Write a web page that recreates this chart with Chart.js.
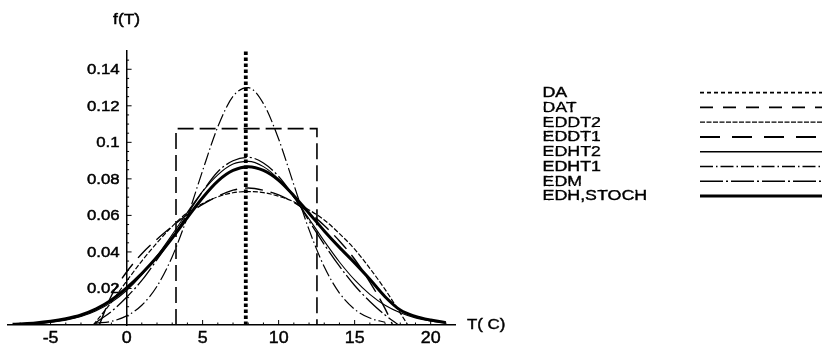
<!DOCTYPE html>
<html>
<head>
<meta charset="utf-8">
<script src="https://cdn.jsdelivr.net/npm/chart.js@4.4.0/dist/chart.umd.min.js"></script>
<style>
  html, body { margin: 0; padding: 0; background: #fff; }
  #wrap { width: 827px; height: 349px; }
</style>
</head>
<body>
<div id="wrap"><canvas id="densityChart" width="827" height="349"></canvas></div>
<script>
// temperature grid (deg C) for the curves with long tails
const tGrid = [-7.5, -7, -6, -5, -4, -3, -2, -1, 0, 1, 2, 3, 4, 5, 6, 7, 8, 9, 10,
               11, 12, 13, 14, 15, 16, 17, 18, 19, 20, 21];

// EDH,STOCH (thick) and EDHT2 (thin solid)
const edhStoch = [0.0004, 0.0006, 0.0011, 0.002, 0.0034, 0.0055, 0.0088, 0.0137, 0.0203, 0.0282,
                  0.0372, 0.0476, 0.0588, 0.0697, 0.0788, 0.0846, 0.0866, 0.0846, 0.0792, 0.0708,
                  0.0612, 0.0515, 0.0425, 0.034, 0.025, 0.0155, 0.0082, 0.0047, 0.0027, 0.0013];
const edht2 = [0.0002, 0.0003, 0.0007, 0.0014, 0.0026, 0.0046, 0.0078, 0.0124, 0.0189, 0.0274,
               0.0378, 0.0495, 0.0617, 0.0731, 0.0822, 0.0881, 0.0896, 0.0867, 0.0798, 0.0698,
               0.0581, 0.0459, 0.0345, 0.0247, 0.0168, 0.0108, 0.0067, 0.0039, 0.0022, 0.0011];

// curves with bounded support
const tEdht1 = [-2, -1, 0, 1, 2, 3, 4, 5, 6, 7, 8, 9, 10, 11, 12, 13, 14, 15, 16, 17];
const edht1 = [0.001, 0.002, 0.005, 0.0108, 0.0212, 0.0374, 0.0592, 0.0845, 0.1085, 0.1252,
               0.1299, 0.1212, 0.1018, 0.0768, 0.0522, 0.0319, 0.0175, 0.0086, 0.0038, 0.0015];

const tEdm = [-2.2, -2, -1, 0, 1, 2, 3, 4, 5, 6, 7, 8, 9, 10, 11, 12, 13, 14, 15, 16, 17, 17.9];
const edm = [0, 0.0014, 0.0074, 0.0152, 0.0244, 0.0358, 0.0478, 0.0607, 0.0731, 0.0839, 0.0899,
             0.0918, 0.0887, 0.0813, 0.0703, 0.057, 0.0441, 0.0322, 0.0216, 0.0129, 0.0055, 0];

const tEddt1 = [-1.8, -1, 0, 1, 2, 3, 4, 5, 6, 7, 8, 9, 10, 11, 12, 13, 14, 15, 16, 17, 17.5];
const eddt1 = [0, 0.016, 0.029, 0.039, 0.047, 0.054, 0.0605, 0.066, 0.0705, 0.0738, 0.075,
               0.0738, 0.0712, 0.0672, 0.0615, 0.0545, 0.046, 0.036, 0.0235, 0.009, 0];

const tEddt2 = [-2.2, -2, -1, 0, 1, 2, 3, 4, 5, 6, 7, 8, 9, 10, 11, 12, 13, 14, 15, 16, 17, 18, 18.5];
const eddt2 = [0, 0.002, 0.0125, 0.024, 0.035, 0.045, 0.054, 0.0615, 0.0665, 0.0702, 0.0724, 0.073,
               0.0725, 0.0705, 0.0675, 0.063, 0.0575, 0.05, 0.0415, 0.031, 0.0195, 0.0065, 0];

// DAT: uniform box, DA: spike at the mean
const tDat = [3.25, 3.25, 12.52, 12.52];
const dat = [0, 0.1075, 0.1075, 0];
const tDa = [7.84, 7.84];
const da = [0, 0.15];

const xTicks = [-5, 0, 5, 10, 15, 20];
const yTicks = [0.02, 0.04, 0.06, 0.08, 0.1, 0.12, 0.14];
const seriesNames = ['DA', 'DAT', 'EDDT2', 'EDDT1', 'EDHT2', 'EDHT1', 'EDM', 'EDH,STOCH'];

const FONT = '"Liberation Sans", Arial, sans-serif';

function pts(ts, fs) {
    return ts.map((t, i) => ({ x: t, y: fs[i] }));
}

// scanned original has heavy, slightly wide lettering
function stretchText(ctx, text, x, y, align, sx) {
    ctx.save();
    ctx.translate(x, y);
    ctx.scale(sx, 1);
    ctx.textAlign = align;
    ctx.lineWidth = 0.45;
    ctx.fillText(text, 0, 0);
    ctx.strokeText(text, 0, 0);
    ctx.restore();
}

const datasets = [
    { data: pts(tDa, da), borderWidth: 3.8, borderDash: [3.5, 2.5], tension: 0,
      legendWidth: 1.8, legendDash: [4, 3] },
    { data: pts(tDat, dat), borderWidth: 1.6, borderDash: [16, 6], tension: 0,
      legendWidth: 1.7, legendDash: [13, 10] },
    { data: pts(tEddt2, eddt2), borderWidth: 1.2, borderDash: [5, 2], cubicInterpolationMode: 'monotone',
      legendWidth: 1.3, legendDash: [5, 1.5] },
    { data: pts(tEddt1, eddt1), borderWidth: 1.4, borderDash: [18, 8], cubicInterpolationMode: 'monotone',
      legendWidth: 1.8, legendDash: [20, 12] },
    { data: pts(tGrid, edht2), borderWidth: 1.1, borderDash: [], cubicInterpolationMode: 'monotone',
      legendWidth: 1.3, legendDash: [] },
    { data: pts(tEdht1, edht1), borderWidth: 1.2, borderDash: [13, 3, 1.5, 3], cubicInterpolationMode: 'monotone',
      legendWidth: 1.4, legendDash: [13, 3, 1.5, 3] },
    { data: pts(tEdm, edm), borderWidth: 1.3, borderDash: [22, 3, 2, 3], cubicInterpolationMode: 'monotone',
      legendWidth: 1.5, legendDash: [23, 3, 2, 3] },
    { data: pts(tGrid, edhStoch), borderWidth: 3, borderDash: [], cubicInterpolationMode: 'monotone',
      legendWidth: 3, legendDash: [] }
];
datasets.forEach((d, i) => {
    d.label = seriesNames[i];
    d.borderColor = '#000';
    d.backgroundColor = '#000';
    d.fill = false;
    d.pointRadius = 0;
});

// ticks pointing into the plot, tick labels, axis titles and the side legend
const annotate = {
    id: 'annotate',
    afterDraw(chart) {
        const ctx = chart.ctx;
        const xs = chart.scales.x, ys = chart.scales.y;
        const x0 = xs.getPixelForValue(0), y0 = ys.getPixelForValue(0);
        ctx.save();
        ctx.strokeStyle = '#000';
        ctx.lineWidth = 1;
        for (let t = -7; t <= 21; t++) {
            const px = xs.getPixelForValue(t);
            const len = t % 5 === 0 ? 5 : 2.5;
            ctx.beginPath(); ctx.moveTo(px, y0); ctx.lineTo(px, y0 - len); ctx.stroke();
        }
        for (let k = 1; k <= 29; k++) {
            const py = ys.getPixelForValue(k * 0.005);
            const len = k % 4 === 0 ? 5 : 2.5;
            ctx.beginPath(); ctx.moveTo(x0, py); ctx.lineTo(x0 + len, py); ctx.stroke();
        }

        ctx.fillStyle = '#000';
        ctx.textBaseline = 'middle';
        ctx.font = '14px ' + FONT;
        yTicks.forEach(v => {
            stretchText(ctx, String(+v.toFixed(2)), x0 - 7, ys.getPixelForValue(v) + 1, 'right', 1.2);
        });
        ctx.font = '17px ' + FONT;
        xTicks.forEach(v => {
            stretchText(ctx, String(v), xs.getPixelForValue(v), y0 + 13.5, 'center', 1.05);
        });

        ctx.font = '15px ' + FONT;
        stretchText(ctx, 'f(T)', x0, 20, 'center', 1.16);
        stretchText(ctx, 'T( C)', xs.right + 12, y0, 'left', 1.12);

        // legend: label on the left, line sample on the right
        const rowY = 92.7, rowGap = 14.76;
        chart.data.datasets.forEach((d, i) => {
            const y = rowY + i * rowGap;
            ctx.font = '15.5px ' + FONT;
            stretchText(ctx, d.label, 542.5, y, 'left', 1.15);
            ctx.lineWidth = d.legendWidth;
            ctx.setLineDash(d.legendDash);
            ctx.beginPath(); ctx.moveTo(700, y); ctx.lineTo(822, y); ctx.stroke();
        });
        ctx.setLineDash([]);
        ctx.restore();
    }
};

new Chart(document.getElementById('densityChart').getContext('2d'), {
    type: 'line',
    data: { datasets: datasets },
    options: {
        responsive: false,
        animation: false,
        layout: { padding: { left: 8, right: 372, top: 51, bottom: 24 } },
        plugins: { legend: { display: false }, tooltip: { enabled: false } },
        scales: {
            x: {
                type: 'linear', min: -7.8, max: 21.6, position: { y: 0 },
                afterBuildTicks: s => { s.ticks = xTicks.map(v => ({ value: v })); },
                grid: { display: false },
                border: { color: '#000', width: 1.5 },
                ticks: { display: false }
            },
            y: {
                type: 'linear', min: 0, max: 0.15, position: { x: 0 },
                afterBuildTicks: s => { s.ticks = yTicks.map(v => ({ value: v })); },
                grid: { display: false },
                border: { color: '#000', width: 1.5 },
                ticks: { display: false }
            }
        }
    },
    plugins: [annotate]
});
</script>
</body>
</html>
